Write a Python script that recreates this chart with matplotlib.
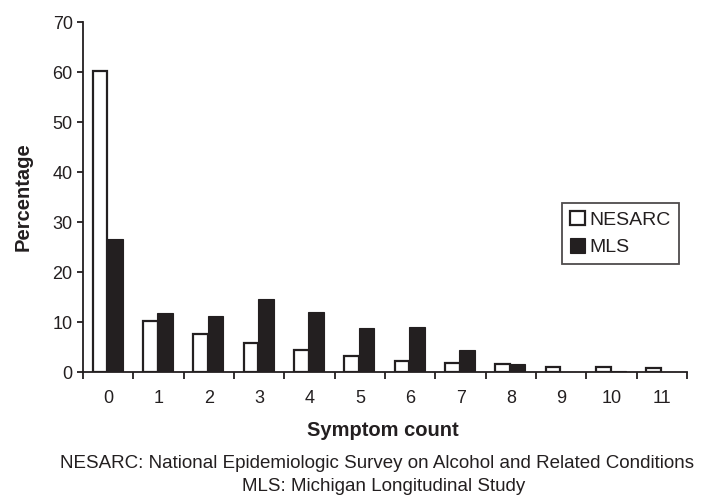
import numpy as np
import matplotlib
matplotlib.use("Agg")
import matplotlib.pyplot as plt

plt.rcParams['font.family'] = ['Liberation Sans', 'DejaVu Sans']

# symptom counts 0..11
symptom_counts = list(range(12))
nesarc = [60.2, 10.2, 7.7, 5.8, 4.5, 3.2, 2.3, 1.9, 1.6, 1.0, 1.0, 0.8]
mls = [26.6, 11.9, 11.3, 14.6, 12.1, 8.9, 9.1, 4.5, 1.6, 0.0, 0.3, 0.0]
bar_color = '#231f20'

fig = plt.figure(figsize=(7.04, 4.97), dpi=100)
ax = fig.add_axes([0.118, 0.2515, 0.858, 0.7042])

x = np.array(symptom_counts)
ax.bar(x - 0.165, nesarc, width=0.29, color='white', edgecolor=bar_color,
       linewidth=1.6, label='NESARC')
ax.bar(x + 0.13, mls, width=0.31, color=bar_color, edgecolor=bar_color,
       linewidth=0.8, label='MLS')

ax.set_xlim(-0.5, 11.5)
ax.set_ylim(0, 70)
ax.set_yticks(range(0, 71, 10))
ax.set_xticks(x)
ax.set_xticklabels([str(v) for v in symptom_counts])
# tick marks sit between categories
ax.set_xticks(np.arange(-0.5, 12, 1), minor=True)
ax.tick_params(axis='x', which='major', length=0, pad=13, labelsize=13, labelcolor='#231f20')
ax.tick_params(axis='x', which='minor', length=5, width=1.3, direction='out', color='#231f20')
ax.tick_params(axis='y', length=4.5, width=1.3, direction='out', labelsize=13, pad=3,
               color='#231f20', labelcolor='#231f20')

for s in ['top', 'right']:
    ax.spines[s].set_visible(False)
for s in ['left', 'bottom']:
    ax.spines[s].set_linewidth(1.3)
    ax.spines[s].set_color('#231f20')

ax.set_ylabel('Percentage', fontsize=14.5, fontweight='bold', color='#231f20')
ax.yaxis.label.set_va('center')
ax.yaxis.set_label_coords(-0.1, 0.5)
ax.set_xlabel('Symptom count', fontsize=14.5, fontweight='bold', color='#231f20')
ax.xaxis.label.set_va('center')
ax.xaxis.set_label_coords(0.497, -0.1677)

leg = ax.legend(loc='upper left', bbox_to_anchor=(0.7935, 0.483), frameon=True,
                fancybox=False, edgecolor='#231f20', fontsize=14,
                handlelength=0.75, handleheight=0.75, handletextpad=0.25,
                borderpad=0.4, labelspacing=0.5, borderaxespad=0)
leg.get_frame().set_linewidth(1.3)
for t in leg.get_texts():
    t.set_color('#231f20')

fig.text(0.536, 1 - 464 / 497, 'NESARC: National Epidemiologic Survey on Alcohol and Related Conditions',
         ha='center', va='center', fontsize=13.5, color='#231f20')
fig.text(0.545, 1 - 486.5 / 497, 'MLS: Michigan Longitudinal Study',
         ha='center', va='center', fontsize=13.5, color='#231f20')

fig.savefig('out.png', dpi=100)
